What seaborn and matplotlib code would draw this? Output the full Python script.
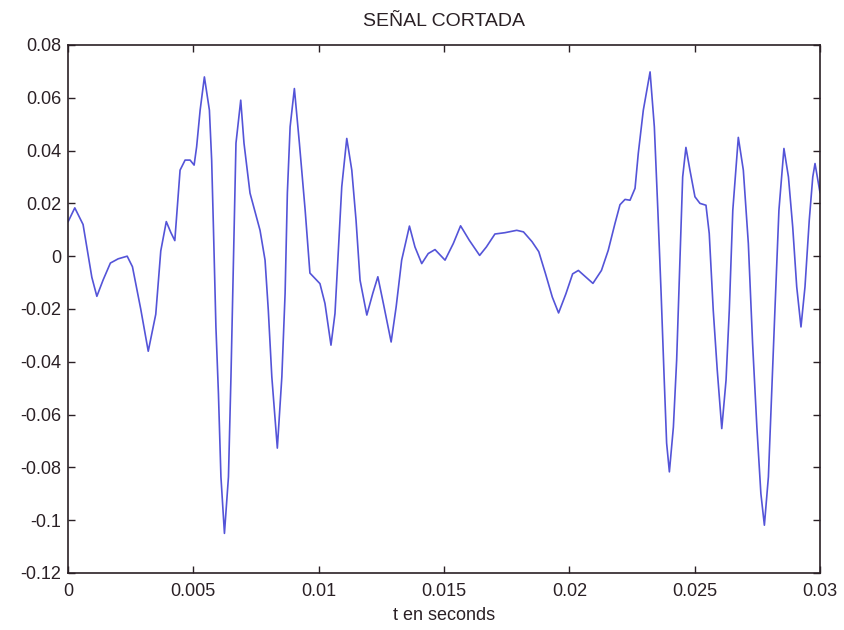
import matplotlib
matplotlib.use("Agg")
import matplotlib.pyplot as plt
import seaborn as sns
import pandas as pd

t_values = [
    0.0, 0.00027, 0.0006, 0.00095, 0.00115, 0.0014, 0.00169, 0.002, 0.00236, 0.00257,
    0.0029, 0.0032, 0.0035, 0.0037, 0.00392, 0.0041, 0.00426, 0.00447, 0.00467, 0.00487,
    0.00503, 0.00513, 0.00527, 0.00544, 0.00564, 0.00573, 0.0058, 0.0059, 0.006, 0.0061,
    0.00624, 0.0064, 0.0065, 0.0066, 0.0067, 0.00689, 0.00702, 0.00726, 0.00766, 0.00786,
    0.00799, 0.00813, 0.00835, 0.00853, 0.00866, 0.00875, 0.00886, 0.00903, 0.00923, 0.00946,
    0.00965, 0.00992, 0.01005, 0.01025, 0.01049, 0.01065, 0.01078, 0.01092, 0.01112, 0.01132,
    0.01149, 0.01165, 0.01192, 0.01216, 0.01236, 0.01258, 0.01289, 0.01309, 0.01331, 0.01362,
    0.01384, 0.01411, 0.01437, 0.01464, 0.01504, 0.01537, 0.01566, 0.01601, 0.01642, 0.01669,
    0.01703, 0.01743, 0.0179, 0.01817, 0.01851, 0.01878, 0.01905, 0.01932, 0.01957, 0.01986,
    0.02013, 0.02036, 0.02067, 0.02094, 0.02128, 0.02155, 0.02182, 0.02202, 0.02222, 0.02242,
    0.02262, 0.02275, 0.02295, 0.02322, 0.02339, 0.02353, 0.02366, 0.02378, 0.02388, 0.02399,
    0.02415, 0.02428, 0.02441, 0.02452, 0.02465, 0.02481, 0.02501, 0.02521, 0.02545, 0.02558,
    0.02574, 0.0259, 0.02608, 0.02625, 0.02638, 0.02652, 0.02674, 0.02694, 0.02714, 0.02731,
    0.02748, 0.02764, 0.02778, 0.02794, 0.02807, 0.0282, 0.02836, 0.02856, 0.02874, 0.02891,
    0.02907, 0.02924, 0.0294, 0.02957, 0.02971, 0.0298, 0.03,
]
signal_values = [
    0.013, 0.0183, 0.012, -0.008, -0.0152, -0.009, -0.0026, -0.001, 0.0, -0.004,
    -0.02, -0.036, -0.022, 0.002, 0.0131, 0.009, 0.0059, 0.0326, 0.0364, 0.0364,
    0.0345, 0.0414, 0.0553, 0.0679, 0.0553, 0.0364, 0.0111, -0.0268, -0.052, -0.0836,
    -0.105, -0.0836, -0.0457, -0.0015, 0.0428, 0.0591, 0.0428, 0.0239, 0.0098, -0.0015,
    -0.0205, -0.0457, -0.0727, -0.0457, -0.014, 0.0239, 0.049, 0.0635, 0.0428, 0.0174,
    -0.0064, -0.0091, -0.0104, -0.0179, -0.0337, -0.0217, 0.0011, 0.0263, 0.0446, 0.0326,
    0.0136, -0.0091, -0.0223, -0.014, -0.0078, -0.0179, -0.0325, -0.0192, -0.0015, 0.0114,
    0.0035, -0.0028, 0.001, 0.0025, -0.0015, 0.0048, 0.0115, 0.006, 0.0003, 0.0035,
    0.0084, 0.0089, 0.0098, 0.0092, 0.0055, 0.0017, -0.0067, -0.0155, -0.0215, -0.0143,
    -0.0067, -0.0054, -0.008, -0.0103, -0.0054, 0.0022, 0.0124, 0.0195, 0.0215, 0.0212,
    0.0257, 0.039, 0.0553, 0.0698, 0.049, 0.0174, -0.014, -0.0457, -0.0708, -0.0817,
    -0.0647, -0.0394, -0.0015, 0.03, 0.0412, 0.0326, 0.0225, 0.02, 0.0193, 0.0086,
    -0.0205, -0.0432, -0.0653, -0.047, -0.0205, 0.0174, 0.045, 0.0326, 0.0048, -0.0331,
    -0.0647, -0.0899, -0.1019, -0.0836, -0.052, -0.0205, 0.0174, 0.0408, 0.03, 0.0111,
    -0.0116, -0.0268, -0.0116, 0.0136, 0.03, 0.0351, 0.024,
]

x_ticks = [0, 0.005, 0.01, 0.015, 0.02, 0.025, 0.03]
x_tick_labels = ["0", "0.005", "0.01", "0.015", "0.02", "0.025", "0.03"]
y_ticks = [-0.12, -0.1, -0.08, -0.06, -0.04, -0.02, 0, 0.02, 0.04, 0.06, 0.08]
y_tick_labels = ["-0.12", "-0.1", "-0.08", "-0.06", "-0.04", "-0.02", "0", "0.02", "0.04", "0.06", "0.08"]
title_text = "SEÑAL CORTADA"
x_label = "t en seconds"

sns.set_theme(style="white")
plt.rcParams["font.family"] = ["Liberation Sans", "DejaVu Sans"]

df = pd.DataFrame({"t": t_values, "s": signal_values})

fig = plt.figure(figsize=(8.44, 6.30), dpi=100)
ax = fig.add_axes([0.0806, 0.0905, 0.8910, 0.8381])
sns.lineplot(data=df, x="t", y="s", ax=ax, color="#5454d8", linewidth=1.2, sort=False)

ax.set_xlim(0, 0.03)
ax.set_ylim(-0.12, 0.08)
ax.set_xticks(x_ticks)
ax.set_xticklabels(x_tick_labels)
ax.set_yticks(y_ticks)
ax.set_yticklabels(y_tick_labels)
ax.tick_params(direction="in", length=5, width=1, color="#2a2025",
               top=True, right=True, bottom=True, left=True,
               labelsize=13, labelcolor="#2a2025")
ax.tick_params(axis="x", pad=7)
ax.tick_params(axis="y", pad=5)
for sp in ax.spines.values():
    sp.set_visible(True)
    sp.set_color("#2a2025")
    sp.set_linewidth(1.2)
ax.set_title(title_text, fontsize=14, color="#2a2025", pad=14)
ax.set_xlabel(x_label, fontsize=13, color="#2a2025", labelpad=5)
ax.set_ylabel("")
ax.grid(False)

fig.savefig("out.png", dpi=100, facecolor="white")
